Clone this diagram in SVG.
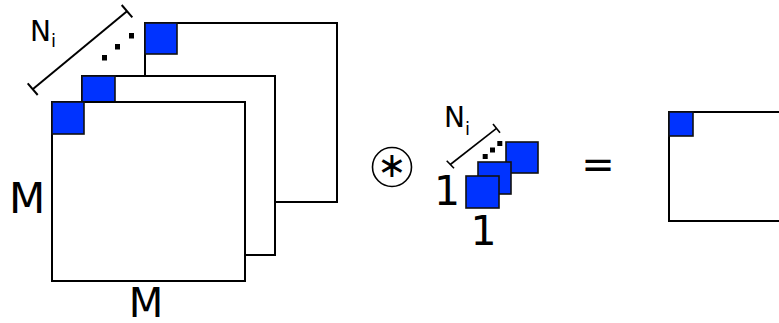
<svg xmlns="http://www.w3.org/2000/svg" width="779" height="323" viewBox="0 0 779 323">
<style>
.frame{fill:#fff;stroke:#000;stroke-width:2}
.blue{fill:#0033ff;stroke:#111;stroke-width:1.6}
.bar{stroke:#000;stroke-width:2;fill:none;stroke-linecap:butt}
.bar2{stroke:#000;stroke-width:1.6;fill:none}
.dot{fill:#000}
.lbl{font-family:"DejaVu Sans",Verdana,sans-serif;fill:#000}
</style>
<rect x="0" y="0" width="779" height="323" fill="#fff"/>
<g id="input-stack">
  <g id="map-back">
    <rect class="frame" x="145" y="23" width="192" height="179"/>
    <rect class="blue" x="145" y="23" width="32" height="31"/>
  </g>
  <g id="map-middle">
    <rect class="frame" x="82" y="76" width="193" height="179"/>
    <rect class="blue" x="82" y="76" width="33" height="32"/>
  </g>
  <g id="map-front">
    <rect class="frame" x="52" y="102" width="193" height="179"/>
    <rect class="blue" x="52" y="102" width="32" height="32"/>
  </g>
</g>
<g id="input-annotations">
  <line class="bar" x1="32.7" y1="89.2" x2="127" y2="11.2"/>
  <line class="bar" x1="27.7" y1="83.3" x2="37.7" y2="95"/>
  <line class="bar" x1="121.7" y1="5" x2="132.3" y2="17.3"/>
  <rect class="dot" x="102" y="55" width="5" height="5.5"/>
  <rect class="dot" x="115" y="44" width="5" height="5.5"/>
  <rect class="dot" x="129" y="33" width="5" height="5.5"/>
  <text class="lbl" x="30" y="41" font-size="28">N<tspan font-size="18" dy="6">i</tspan></text>
  <text class="lbl" x="27" y="213" font-size="42" text-anchor="middle">M</text>
  <text class="lbl" x="146" y="317" font-size="40" text-anchor="middle">M</text>
</g>
<g id="operator">
  <circle cx="392" cy="167" r="19.5" fill="none" stroke="#000" stroke-width="1.6"/>
  <text class="lbl" x="392" y="177" font-size="35" text-anchor="middle">∗</text>
</g>
<g id="kernel">
  <g id="kernel-back"><rect class="blue" x="506" y="142" width="32" height="31"/></g>
  <g id="kernel-middle"><rect class="blue" x="478" y="162" width="33" height="32"/></g>
  <g id="kernel-front"><rect class="blue" x="466" y="176" width="33" height="32"/></g>
  <line class="bar2" x1="450.3" y1="164.5" x2="496.5" y2="128.3"/>
  <line class="bar2" x1="446.7" y1="160.7" x2="454" y2="168.3"/>
  <line class="bar2" x1="493" y1="124" x2="500" y2="132.7"/>
  <rect class="dot" x="482.7" y="154" width="5" height="5"/>
  <rect class="dot" x="490" y="147.5" width="5" height="5"/>
  <rect class="dot" x="497.3" y="141" width="5" height="5"/>
  <text class="lbl" x="444" y="127" font-size="28">N<tspan font-size="18" dy="8">i</tspan></text>
  <text class="lbl" x="447" y="205" font-size="41" text-anchor="middle">1</text>
  <text class="lbl" x="483.5" y="245" font-size="41" text-anchor="middle">1</text>
</g>
<g id="equals">
  <text class="lbl" x="598" y="178" font-size="40" text-anchor="middle">=</text>
</g>
<g id="output">
  <rect class="frame" x="669" y="112" width="200" height="109"/>
  <rect class="blue" x="669" y="112" width="24" height="24"/>
</g>
</svg>
